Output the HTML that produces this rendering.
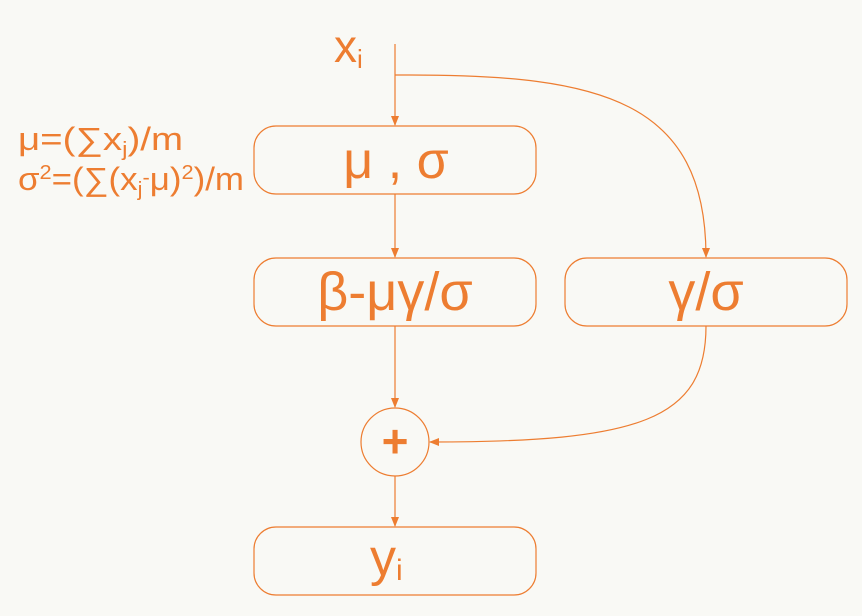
<!DOCTYPE html>
<html><head><meta charset="utf-8"><style>
body{margin:0;background:#f9f9f5;}
svg{display:block;}
text{font-family:"Liberation Sans",sans-serif;fill:#ed7d31;}
</style></head><body>
<svg width="862" height="616" viewBox="0 0 862 616">
<defs><marker id="a" markerWidth="10" markerHeight="10" refX="9" refY="5" orient="auto" markerUnits="userSpaceOnUse"><path d="M0,1 L10,5 L0,9 z" fill="#ed7d31"/></marker></defs>
<rect width="862" height="616" fill="#f9f9f5"/>
<g fill="none" stroke="#ed7d31" stroke-width="1.2">
<rect x="254" y="126" width="282" height="68" rx="22"/>
<rect x="254" y="258" width="282" height="68" rx="22"/>
<rect x="565" y="258" width="282" height="68" rx="22"/>
<rect x="254" y="527" width="282" height="68" rx="22"/>
<circle cx="395" cy="442" r="34"/>
<path d="M395,44 V125" marker-end="url(#a)"/>
<path d="M395,194 V257" marker-end="url(#a)"/>
<path d="M395,326 V407" marker-end="url(#a)"/>
<path d="M395,476 V526" marker-end="url(#a)"/>
<path d="M395,75 H410 C600,75 706,100 706,257" marker-end="url(#a)"/>
<path d="M706,326 C706,420 640,442 430,442" marker-end="url(#a)"/>
</g>
<text x="334" y="62" font-size="46">x<tspan font-size="26" dy="6">i</tspan></text>
<text x="18" y="150" font-size="32" textLength="165" lengthAdjust="spacingAndGlyphs">μ=(∑x<tspan font-size="20" dy="6">j</tspan><tspan dy="-6">)/m</tspan></text>
<text x="18" y="190" font-size="32" textLength="226" lengthAdjust="spacingAndGlyphs">σ<tspan font-size="20" dy="-11">2</tspan><tspan dy="11">=(∑(x</tspan><tspan font-size="20" dy="6">j</tspan><tspan font-size="20" dy="-12">-</tspan><tspan dy="6">μ)</tspan><tspan font-size="20" dy="-11">2</tspan><tspan dy="11">)/m</tspan></text>
<text x="396" y="178" font-size="52" text-anchor="middle">μ , σ</text>
<text x="395" y="310" font-size="54" text-anchor="middle">β-μγ/σ</text>
<text x="706" y="310" font-size="54" text-anchor="middle">γ/σ</text>
<text x="395" y="457" font-size="46" font-weight="bold" text-anchor="middle">+</text>
<text x="370" y="575" font-size="52">y<tspan font-size="30" dy="5">i</tspan></text>
</svg>
</body></html>
